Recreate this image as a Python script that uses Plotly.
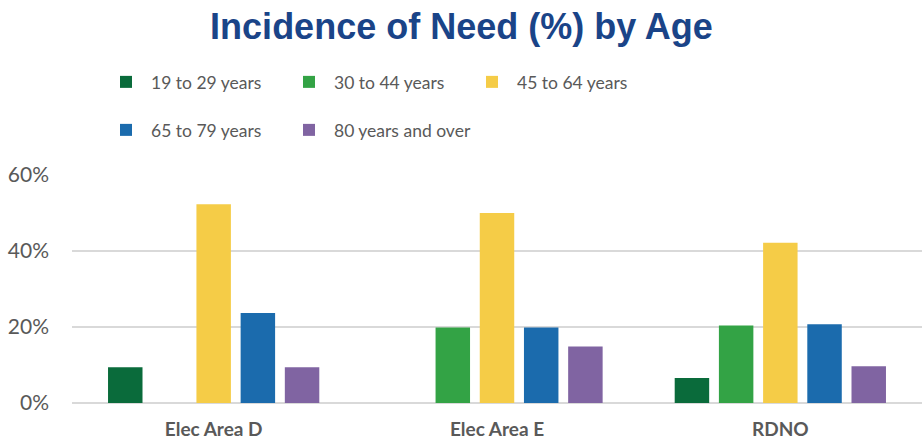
import plotly.graph_objects as go

categories = ["Elec Area D", "Elec Area E", "RDNO"]
series_names = ["19 to 29 years", "30 to 44 years", "45 to 64 years", "65 to 79 years", "80 years and over"]
v_19_29 = [9.4, None, 6.6]
v_30_44 = [None, 19.9, 20.4]
v_45_64 = [52.3, 50.0, 42.2]
v_65_79 = [23.7, 19.9, 20.7]
v_80_plus = [9.4, 14.9, 9.7]
tick_vals = [0, 20, 40, 60]
tick_text = ["0%", "20%", "40%", "60%"]

colors = ["#0A6B3B", "#33A345", "#F5CC47", "#1B6BAD", "#8064A2"]
values = [v_19_29, v_30_44, v_45_64, v_65_79, v_80_plus]
legends = ["legend", "legend", "legend", "legend2", "legend3"]

fig = go.Figure()
for name, vals, col, lg in zip(series_names, values, colors, legends):
    fig.add_trace(go.Bar(x=categories, y=vals, name=name, marker_color=col,
                         marker_line_width=0, legend=lg))

legend_common = dict(orientation="h", font=dict(family="Lato", size=17.5, color="#595959"),
                     itemwidth=40, xanchor="left", yanchor="middle",
                     bgcolor="rgba(0,0,0,0)", itemclick=False, itemdoubleclick=False,
                     traceorder="normal")

fig.update_layout(
    width=923, height=440,
    margin=dict(l=72, r=1, t=175, b=37),
    paper_bgcolor="white", plot_bgcolor="white",
    title=dict(text="<b>Incidence of Need (%) by Age</b>", x=0.5, xanchor="center",
               y=1 - 26 / 440, yanchor="middle",
               font=dict(family="Liberation Sans", size=36, color="#1A4488")),
    barmode="group", bargap=0.22, bargroupgap=0.22,
    showlegend=True,
    legend=dict(**legend_common, entrywidth=128, x=(101 - 72) / 850, y=1 + (175 - 82) / 228),
    legend2=dict(**legend_common, entrywidth=128, x=(101 - 72) / 850, y=1 + (175 - 130) / 228),
    legend3=dict(**legend_common, x=(284 - 72) / 850, y=1 + (175 - 130) / 228),
    xaxis=dict(tickfont=dict(family="Lato", size=19, color="#595959", weight="bold"),
               showline=False, ticks="", showgrid=False, ticklabelstandoff=13),
    yaxis=dict(range=[0, 60], tickvals=tick_vals, ticktext=tick_text,
               tickfont=dict(family="Lato", size=21, color="#595959"),
               showgrid=True, gridcolor="#D9D9D9", gridwidth=1.5,
               zeroline=True, zerolinecolor="#D9D9D9", zerolinewidth=1.5,
               ticklabelstandoff=22, showline=False),
)
fig.write_html("out.html", config={"displayModeBar": False},
               post_script="document.body.style.margin='0';")
